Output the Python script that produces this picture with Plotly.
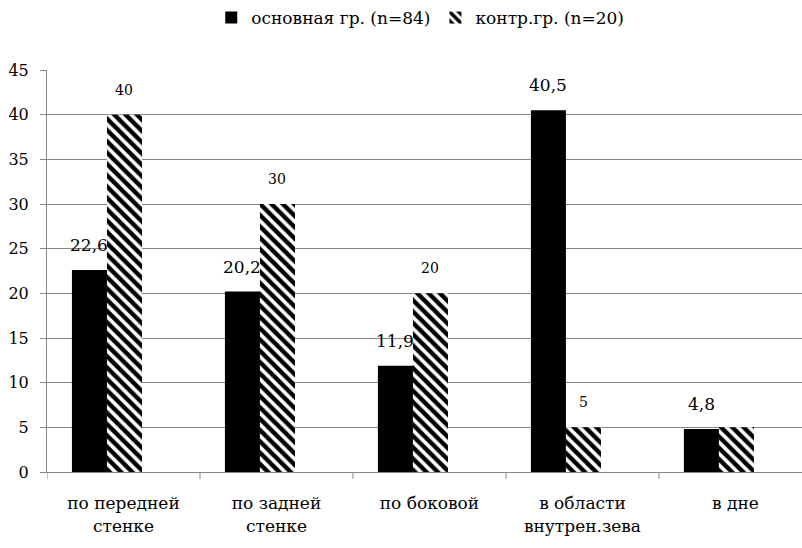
import plotly.graph_objects as go

# Localisation categories and shares (%) for both groups
categories = ["по передней<br>стенке", "по задней<br>стенке", "по боковой",
              "в области<br>внутрен.зева", "в дне"]
main_group = [22.6, 20.2, 11.9, 40.5, 4.8]
control_group = [40, 30, 20, 5, 5]
series_names = ["основная гр. (n=84)", "контр.гр. (n=20)"]
y_ticks = [0, 5, 10, 15, 20, 25, 30, 35, 40, 45]

FONT = "DejaVu Serif"
BAR_W = 0.229
OFFSETS = [-0.337, -0.108]

x_idx = list(range(len(categories)))

fig = go.Figure()
fig.add_trace(go.Bar(
    x=x_idx, y=main_group, name=series_names[0],
    width=BAR_W, offset=OFFSETS[0],
    marker=dict(color="black", line=dict(width=0)),
))
fig.add_trace(go.Bar(
    x=x_idx, y=control_group, name=series_names[1],
    width=BAR_W, offset=OFFSETS[1],
    marker=dict(color="white", line=dict(width=0),
                pattern=dict(shape="\\", fgcolor="black", bgcolor="white",
                             fgopacity=1, size=8, solidity=0.55)),
))


def fmt(v):
    return f"{v:g}".replace(".", ",")


annotations = []
for vals, off, size in ((main_group, OFFSETS[0], 17), (control_group, OFFSETS[1], 14)):
    for i, v in enumerate(vals):
        # the last control label is hidden behind the neighbouring "4,8"
        if vals is control_group and i == len(vals) - 1:
            continue
        annotations.append(dict(
            x=i + off + BAR_W / 2, y=v, xref="x", yref="y",
            text=fmt(v), showarrow=False, yshift=25,
            font=dict(family=FONT, size=size, color="black"),
            xanchor="center", yanchor="middle",
        ))

fig.update_layout(
    width=802, height=548,
    margin=dict(l=47, r=0, t=70, b=76),
    paper_bgcolor="white", plot_bgcolor="white",
    barmode="overlay",
    font=dict(family=FONT, size=17, color="black"),
    showlegend=True,
    legend=dict(orientation="h", xref="container", x=0.524, xanchor="center",
                yref="container", y=1.0, yanchor="top",
                font=dict(family=FONT, size=17, color="black"),
                itemwidth=30),
    annotations=annotations,
    separators=", ",
)
fig.update_xaxes(
    type="linear", range=[-0.5, 4.435],
    tickmode="array", tickvals=x_idx, ticktext=categories,
    showgrid=False, showline=True, linecolor="#868686", linewidth=1,
    ticks="", tickfont=dict(family=FONT, size=17, color="black"),
    ticklabelstandoff=16, zeroline=False,
)
# boundary tick marks between categories
for b in [i - 0.5 for i in range(len(categories) + 1)]:
    fig.add_shape(type="line", xref="x", yref="paper", x0=b, x1=b,
                  y0=0, y1=-0.017, line=dict(color="#868686", width=1))
fig.update_yaxes(
    range=[0, 45], tickmode="array", tickvals=y_ticks,
    showgrid=True, gridcolor="#868686", gridwidth=1,
    showline=True, linecolor="#868686", linewidth=1,
    ticks="outside", ticklen=6, tickcolor="#868686",
    tickfont=dict(family=FONT, size=16, color="black"),
    ticklabelstandoff=8, zeroline=False,
)

fig.write_html("out.html")
